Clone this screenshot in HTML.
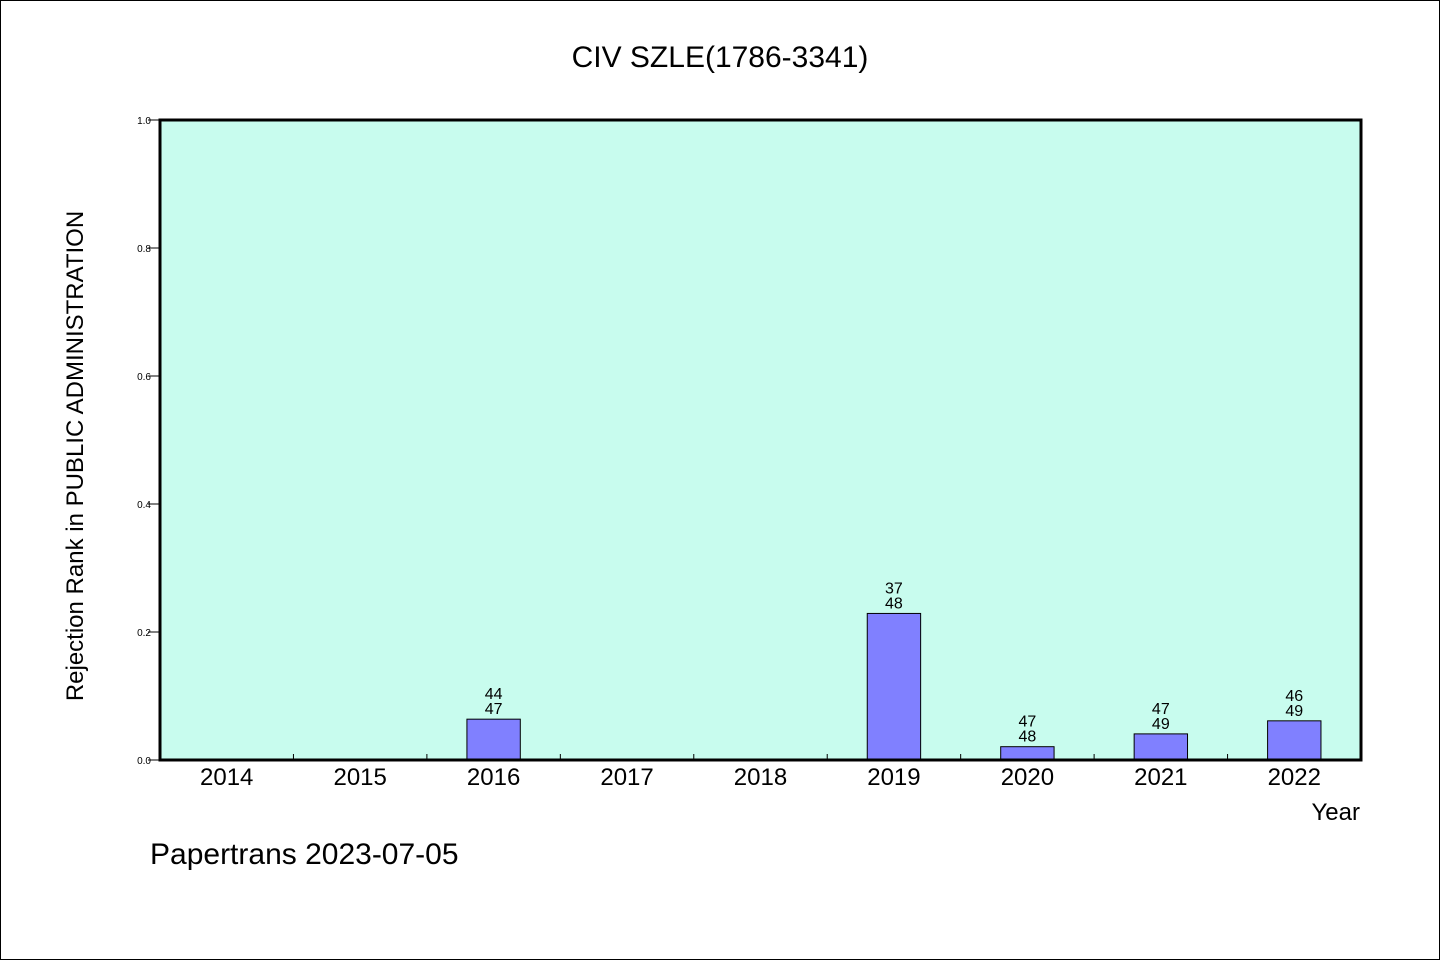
<!DOCTYPE html>
<html><head><meta charset="utf-8"><style>
html,body{margin:0;padding:0;background:#fff}
svg{display:block}
text{font-family:"WenQuanYi Zen Hei","Liberation Sans",sans-serif;fill:#000}
</style></head><body>
<svg id="chart" width="1440" height="960" viewBox="0 0 1440 960" xmlns="http://www.w3.org/2000/svg">
<rect x="0.5" y="0.5" width="1439" height="959" fill="#fff" stroke="#000"/>
<text x="720" y="67" font-size="30" text-anchor="middle">CIV SZLE(1786-3341)</text>
<rect x="160" y="120" width="1201" height="640" fill="#c8fcee"/>
<g id="marks"></g>
<rect x="160" y="120" width="1201" height="640" fill="none" stroke="#000" stroke-width="3"/>
<text transform="translate(83,456) rotate(-90)" font-size="24" text-anchor="middle">Rejection Rank in PUBLIC ADMINISTRATION</text>
<text x="1360" y="820" font-size="24" text-anchor="end">Year</text>
<text x="150" y="864" font-size="30">Papertrans 2023-07-05</text>
</svg>
<script>
const categories=["2014","2015","2016","2017","2018","2019","2020","2021","2022"];
const values=[0,0,0.0638,0,0,0.229,0.0208,0.0408,0.0612];
const labelTop=["","","44","","","37","47","47","46"];
const labelBottom=["","","47","","","48","48","49","49"];
const yTicks=[0,0.2,0.4,0.6,0.8,1.0];
const X0=160,X1=1361,Y0=760,Y1=120;
const band=(X1-X0)/categories.length;
const xc=i=>X0+band*(i+0.5);
const y=v=>Y0-(v/1)*(Y0-Y1);
const ns="http://www.w3.org/2000/svg";
const g=document.getElementById('marks');
function mk(t,a){const e=document.createElementNS(ns,t);for(const k in a)e.setAttribute(k,a[k]);g.appendChild(e);return e;}
yTicks.forEach(t=>{
  const l=mk('line',{x1:148,x2:160,y1:y(t),y2:y(t),stroke:'#000','stroke-width':1});
  
  
  const tx=mk('text',{x:151,y:y(t)+4,'font-size':10,'text-anchor':'end'});
  tx.textContent=t.toFixed(1);
  
  
});
categories.forEach((c,i)=>{
  if(i>0){
    const l=mk('line',{x1:X0+band*i,x2:X0+band*i,y1:Y0,y2:Y0-6,stroke:'#000','stroke-width':1});
    
    
  }
  const tx=mk('text',{x:xc(i),y:785,'font-size':24,'text-anchor':'middle'});
  tx.textContent=c;
  
  
  if(values[i]>0){
    const w=band*0.4;
    const r=mk('rect',{x:xc(i)-w/2,y:y(values[i]),width:w,height:Y0-y(values[i]),fill:'#8080ff',stroke:'#000','stroke-width':1});
    
    
    const t1=mk('text',{x:xc(i),y:y(values[i])-20,'font-size':16,'text-anchor':'middle'});
    t1.textContent=labelTop[i];
    
    
    const t2=mk('text',{x:xc(i),y:y(values[i])-5,'font-size':16,'text-anchor':'middle'});
    t2.textContent=labelBottom[i];
    
    
  }
});
</script>
</body></html>
